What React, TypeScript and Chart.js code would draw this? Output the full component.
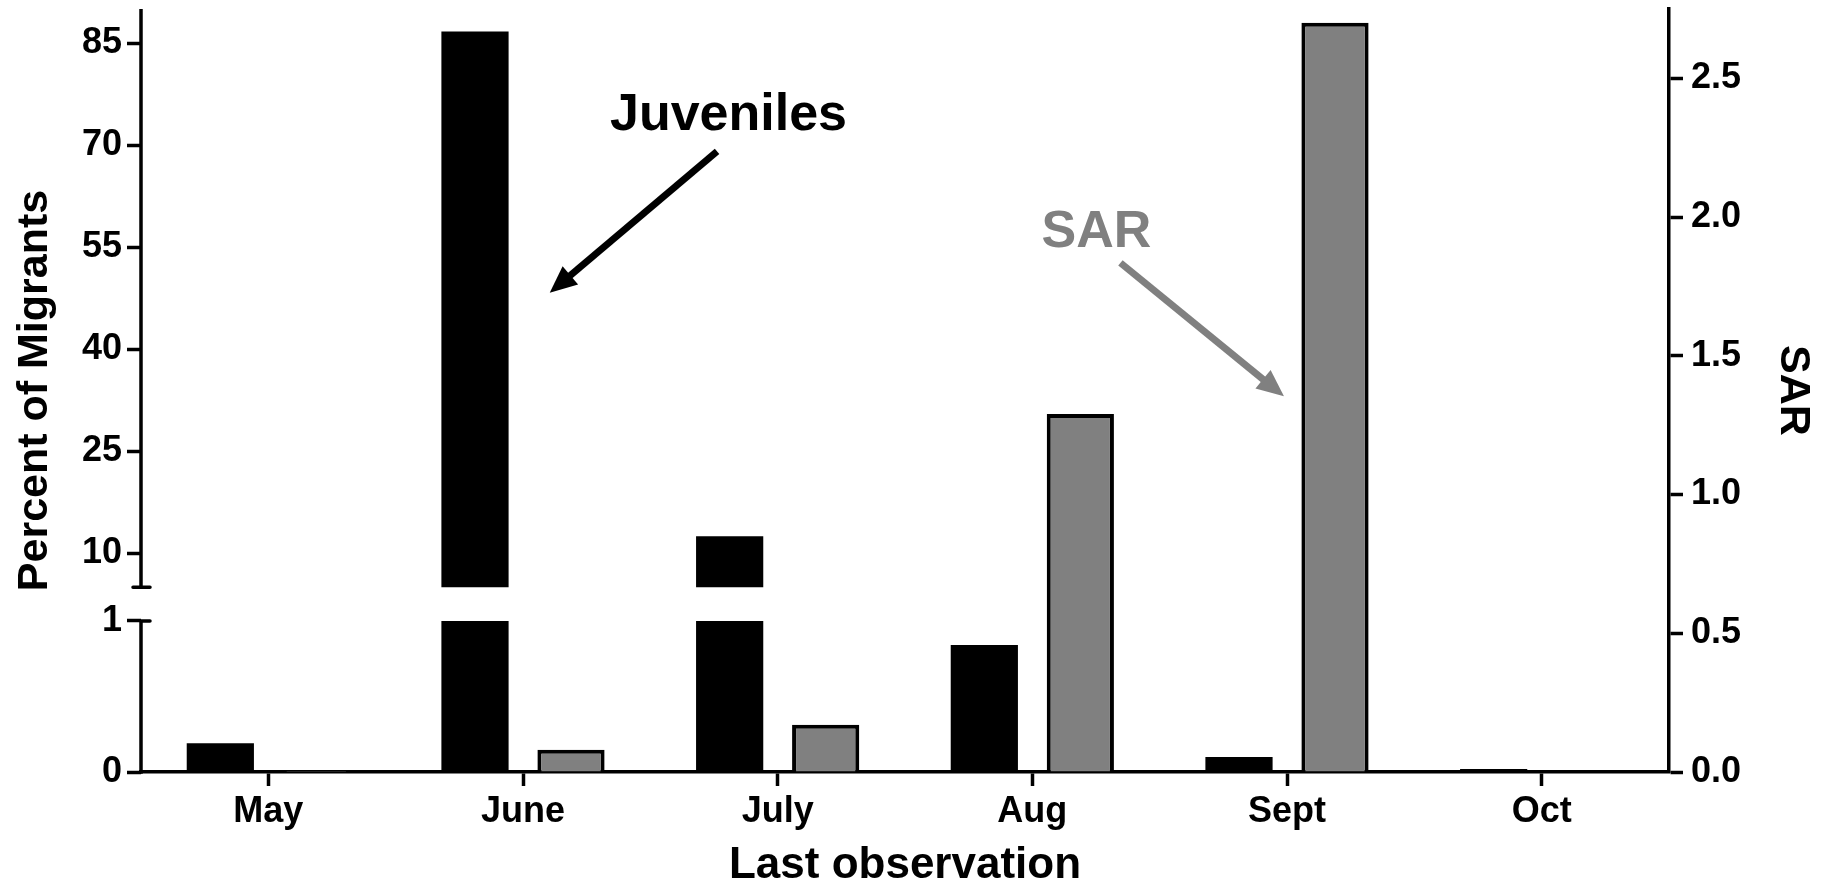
import React, { useEffect, useRef } from 'react';
import { Chart, registerables, LinearScale } from 'chart.js';

// ---------------- data ----------------
const months = ['May', 'June', 'July', 'Aug', 'Sept', 'Oct'];
const percentMigrants = [0.19, 86.7, 12.5, 0.84, 0.1, 0.02];
const sarValues = [0.005, 0.08, 0.17, 1.29, 2.7, 0];
const percentTicksLow = [0, 1];
const percentTicksHigh = [10, 25, 40, 55, 70, 85];
const percentBreak = [1, 5]; // lower segment ends at 1, upper segment starts at 5
const percentMax = 90;
const sarTicks = [0, 0.5, 1.0, 1.5, 2.0, 2.5];
const sarMax = 2.75;

// annotation anchors: x = category index, y = SAR-axis value
const juvenilesNote = { text: 'Juveniles', x: 1.807, y: 2.315, from: [1.762, 2.237], to: [1.105, 1.727] };
const sarNote = { text: 'SAR', x: 3.252, y: 1.893, from: [3.346, 1.835], to: [3.988, 1.354] };

// share of the left axis height used by the lower segment and by the gap
const LOW_SHARE = 0.198;
const GAP_SHARE = 0.044;

const FONT = "'Liberation Sans', Arial, Helvetica, sans-serif";
const AXIS_W = 3.5;

class BrokenLinearScale extends LinearScale {
  static id = 'brokenLinear';
  static defaults = LinearScale.defaults;

  getPixelForValue(value: any) {
    if (value === null || value === undefined || isNaN(value)) return NaN;
    const lo = percentBreak[0];
    const hi = percentBreak[1];
    const min = (this as any).min;
    const max = (this as any).max;
    let frac: number;
    if (value <= lo) frac = ((value - min) / (lo - min)) * LOW_SHARE;
    else if (value < hi) frac = LOW_SHARE + ((value - lo) / (hi - lo)) * GAP_SHARE;
    else frac = LOW_SHARE + GAP_SHARE + ((value - hi) / (max - hi)) * (1 - LOW_SHARE - GAP_SHARE);
    return (this as any).getPixelForDecimal(frac);
  }

  getValueForPixel(pixel: number) {
    const frac = (this as any).getDecimalForPixel(pixel);
    const lo = percentBreak[0];
    const hi = percentBreak[1];
    const min = (this as any).min;
    const max = (this as any).max;
    if (frac <= LOW_SHARE) return min + (frac / LOW_SHARE) * (lo - min);
    if (frac < LOW_SHARE + GAP_SHARE) return lo + ((frac - LOW_SHARE) / GAP_SHARE) * (hi - lo);
    return hi + ((frac - LOW_SHARE - GAP_SHARE) / (1 - LOW_SHARE - GAP_SHARE)) * (max - hi);
  }
}

Chart.register(...registerables, BrokenLinearScale as any);

function drawArrow(ctx: CanvasRenderingContext2D, x1: number, y1: number, x2: number, y2: number, color: string) {
  const dx = x2 - x1;
  const dy = y2 - y1;
  const len = Math.hypot(dx, dy);
  const ux = dx / len;
  const uy = dy / len;
  const head = 27;
  const half = 12;
  ctx.save();
  ctx.strokeStyle = color;
  ctx.fillStyle = color;
  ctx.lineWidth = 7;
  ctx.lineCap = 'butt';
  ctx.beginPath();
  ctx.moveTo(x1, y1);
  ctx.lineTo(x2 - ux * head * 0.8, y2 - uy * head * 0.8);
  ctx.stroke();
  ctx.beginPath();
  ctx.moveTo(x2, y2);
  ctx.lineTo(x2 - ux * head - uy * half, y2 - uy * head + ux * half);
  ctx.lineTo(x2 - ux * head + uy * half, y2 - uy * head - ux * half);
  ctx.closePath();
  ctx.fill();
  ctx.restore();
}

const brokenAxisPlugin = {
  id: 'brokenAxis',
  beforeDatasetDraw(chart: any, args: any) {
    if (args.index !== 0) return;
    const y = chart.scales.y;
    const { ctx, chartArea } = chart;
    const gapTop = y.getPixelForValue(percentBreak[1]);
    const gapBottom = y.getPixelForValue(percentBreak[0]);
    ctx.save();
    ctx.beginPath();
    ctx.rect(chartArea.left, chartArea.top - 40, chartArea.right - chartArea.left, gapTop - chartArea.top + 40);
    ctx.rect(chartArea.left, gapBottom, chartArea.right - chartArea.left, chartArea.bottom + 40 - gapBottom);
    ctx.clip();
  },
  afterDatasetDraw(chart: any, args: any) {
    if (args.index !== 0) return;
    chart.ctx.restore();
  },
  afterDraw(chart: any) {
    const { ctx, chartArea, scales } = chart;
    const y = scales.y;
    const x = scales.x;
    const y1 = scales.y1;
    const ax = chartArea.left;
    const lowTop = y.getPixelForValue(percentBreak[0]);
    const highBottom = y.getPixelForValue(percentBreak[1]);
    ctx.save();
    ctx.strokeStyle = '#000';
    ctx.lineWidth = AXIS_W;
    ctx.lineCap = 'butt';
    ctx.beginPath();
    ctx.moveTo(ax, chartArea.bottom + AXIS_W / 2);
    ctx.lineTo(ax, lowTop);
    ctx.moveTo(ax, highBottom);
    ctx.lineTo(ax, chartArea.top);
    ctx.stroke();
    ctx.lineCap = 'round';
    ctx.beginPath();
    ctx.moveTo(ax - 8, highBottom);
    ctx.lineTo(ax + 9, highBottom);
    ctx.moveTo(ax, lowTop);
    ctx.lineTo(ax + 9, lowTop);
    ctx.stroke();
    ctx.restore();

    // annotations
    const notes = [
      { note: juvenilesNote, color: '#000000' },
      { note: sarNote, color: '#808080' },
    ];
    for (const { note, color } of notes) {
      ctx.save();
      ctx.fillStyle = color;
      ctx.font = `bold 52px ${FONT}`;
      ctx.textAlign = 'center';
      ctx.textBaseline = 'alphabetic';
      ctx.fillText(note.text, x.getPixelForValue(note.x), y1.getPixelForValue(note.y));
      ctx.restore();
      drawArrow(
        ctx,
        x.getPixelForValue(note.from[0]),
        y1.getPixelForValue(note.from[1]),
        x.getPixelForValue(note.to[0]),
        y1.getPixelForValue(note.to[1]),
        color
      );
    }
  },
};

const tickFont = { family: FONT, size: 36, weight: 'bold' as const };

export default function App() {
  const ref = useRef<HTMLCanvasElement>(null);

  useEffect(() => {
    document.body.style.margin = '0';
    const canvas = ref.current;
    if (!canvas) return;
    const chart = new Chart(canvas, {
      type: 'bar',
      data: {
        labels: months,
        datasets: [
          {
            label: 'Percent of Migrants',
            data: percentMigrants,
            yAxisID: 'y',
            backgroundColor: '#000000',
            borderWidth: 0,
            categoryPercentage: 0.754,
            barPercentage: 0.7,
          },
          {
            label: 'SAR',
            data: sarValues,
            yAxisID: 'y1',
            backgroundColor: '#808080',
            borderColor: '#000000',
            borderWidth: 4,
            categoryPercentage: 0.754,
            barPercentage: 0.7,
          },
        ],
      },
      options: {
        responsive: false,
        animation: false,
        devicePixelRatio: 1,
        layout: { padding: { top: 9, left: 0, right: 0, bottom: 0 } },
        plugins: {
          legend: { display: false },
          tooltip: { enabled: false },
          title: { display: false },
        },
        scales: {
          x: {
            type: 'category',
            offset: true,
            z: 1,
            grid: {
              display: true,
              drawOnChartArea: false,
              drawTicks: true,
              tickLength: 14,
              tickWidth: AXIS_W,
              tickColor: '#000',
              offset: false,
            },
            border: { display: true, color: '#000', width: AXIS_W },
            ticks: { color: '#000', font: tickFont, padding: 4, maxRotation: 0, autoSkip: false },
            title: {
              display: true,
              text: 'Last observation',
              color: '#000',
              font: { family: FONT, size: 44, weight: 'bold', lineHeight: 0.86 },
              padding: { top: 0, bottom: 0 },
            },
            afterFit: (s: any) => {
              s.height = 113;
              s.paddingLeft = 0;
              s.paddingRight = 0;
            },
          } as any,
          y: {
            type: 'brokenLinear',
            position: 'left',
            min: 0,
            max: percentMax,
            afterBuildTicks: (s: any) => {
              s.ticks = [...percentTicksLow, ...percentTicksHigh].map((v) => ({ value: v }));
            },
            grid: {
              display: true,
              drawOnChartArea: false,
              drawTicks: true,
              tickLength: 14,
              tickWidth: AXIS_W,
              tickColor: '#000',
            },
            border: { display: false },
            ticks: {
              color: '#000',
              font: tickFont,
              padding: 5,
              autoSkip: false,
              callback: (v: any) => String(v),
            },
            title: {
              display: true,
              text: 'Percent of Migrants',
              color: '#000',
              font: { family: FONT, size: 43, weight: 'bold', lineHeight: 1 },
              padding: { top: 13.5, bottom: 0 },
            },
            afterFit: (s: any) => {
              s.width = 141;
              s.paddingTop = 0;
              s.paddingBottom = 0;
            },
          } as any,
          y1: {
            type: 'linear',
            position: 'right',
            min: 0,
            max: sarMax,
            afterBuildTicks: (s: any) => {
              s.ticks = sarTicks.map((v) => ({ value: v }));
            },
            grid: {
              display: true,
              drawOnChartArea: false,
              drawTicks: true,
              tickLength: 14,
              tickWidth: AXIS_W,
              tickColor: '#000',
            },
            border: { display: true, color: '#000', width: AXIS_W },
            ticks: {
              color: '#000',
              font: tickFont,
              padding: 8,
              autoSkip: false,
              callback: (v: any) => Number(v).toFixed(1),
            },
            title: {
              display: true,
              text: 'SAR',
              color: '#000',
              font: { family: FONT, size: 43, weight: 'bold', lineHeight: 1 },
              padding: { top: 14.5, bottom: 0 },
            },
            afterFit: (s: any) => {
              s.width = 160;
              s.paddingTop = 0;
              s.paddingBottom = 0;
            },
          } as any,
        },
      },
      plugins: [brokenAxisPlugin as any],
    });
    return () => chart.destroy();
  }, []);

  return (
    <div style={{ width: 1829, height: 885, position: 'relative', background: '#fff' }}>
      <canvas ref={ref} width={1829} height={885} style={{ display: 'block' }} />
    </div>
  );
}
